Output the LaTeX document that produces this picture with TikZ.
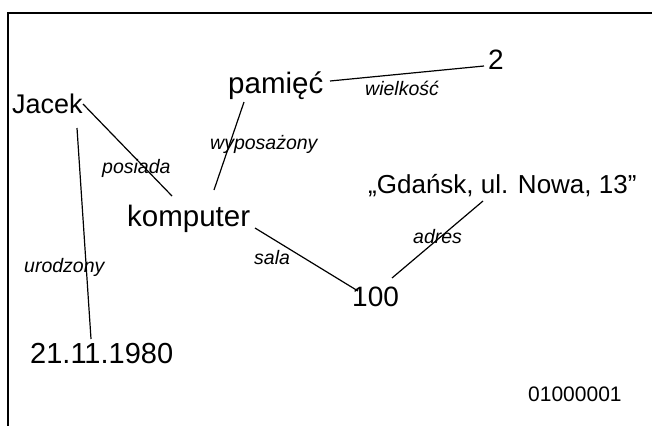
\documentclass[tikz,border=0pt]{standalone}
\usepackage{fontspec}
\setmainfont{Liberation Sans}
\begin{document}
\begin{tikzpicture}[x=1pt,y=-1pt,
  big/.style={inner sep=0pt,anchor=base west,font=\fontsize{28}{30}\selectfont},
  bigger/.style={big,font=\fontsize{29.5}{31}\selectfont},
  rel/.style={inner sep=0pt,anchor=base west,font=\fontsize{19.5}{21}\selectfont\itshape},
  small/.style={inner sep=0pt,anchor=base west,font=\fontsize{21}{23}\selectfont},
  conn/.style={draw=black,line width=1.2pt},
  frame/.style={draw=black,line width=1.4pt}]
\useasboundingbox (0,0) rectangle (652,426);
\draw[frame] (652,13) -- (8,13) -- (8,426);
% nodes
\node[big,font=\fontsize{27}{29}\selectfont] (jacek) at (12,113) {Jacek};
\node[bigger] (pamiec) at (228,93) {pamięć};
\node[big] (two) at (488,69) {2};
\node[bigger] (komp) at (127,226) {komputer};
\node[big,font=\fontsize{26}{28}\selectfont] (gdansk) at (368,193) {„Gdańsk, ul. Nowa, 13”};
\node[big] (sto) at (352,306) {100};
\node[big,font=\fontsize{29}{31}\selectfont] (data) at (30,363) {21.11.1980};
\node[small] (bin) at (528,401) {01000001};
% connectors
\draw[conn] ([shift={(71,-9)}]jacek.base west) -- ([shift={(45,-30)}]komp.base west);
\draw[conn] ([shift={(65,15)}]jacek.base west) -- ([shift={(61,-24)}]data.base west);
\draw[conn] ([shift={(102,-12)}]pamiec.base west) -- ([shift={(-4,-3)}]two.base west);
\draw[conn] ([shift={(16,9)}]pamiec.base west) -- ([shift={(87,-36)}]komp.base west);
\draw[conn] ([shift={(128,2)}]komp.base west) -- ([shift={(6,-15)}]sto.base west);
\draw[conn] ([shift={(115,8)}]gdansk.base west) -- ([shift={(40,-28)}]sto.base west);
% relation labels
\node[rel] (l1) at (365,95) {wielkość};
\node[rel] (l2) at (210,149) {wyposażony};
\node[rel] (l3) at (102,173) {posiada};
\node[rel] (l4) at (24,272) {urodzony};
\node[rel] (l5) at (413,243) {adres};
\node[rel] (l6) at (254,264) {sala};
\end{tikzpicture}
\end{document}
